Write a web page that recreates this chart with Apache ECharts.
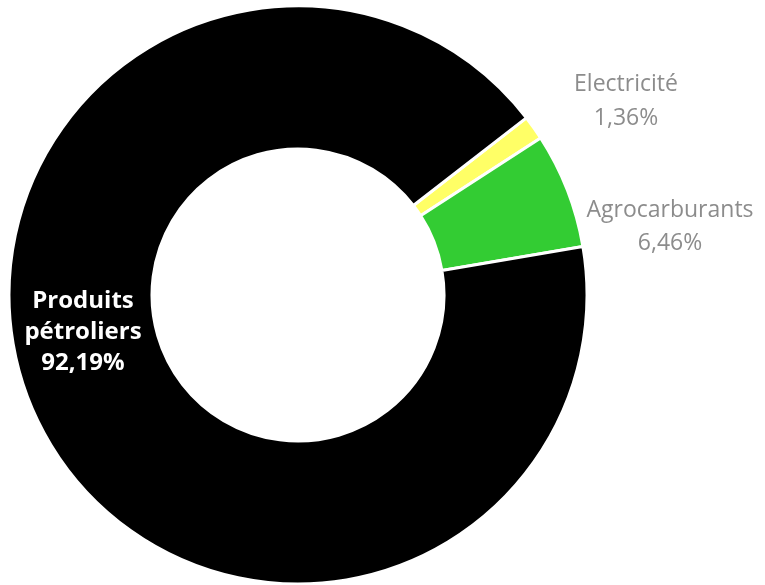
<!DOCTYPE html>
<html>
<head>
<meta charset="utf-8">
<script src="https://cdn.jsdelivr.net/npm/echarts@6/dist/echarts.min.js"></script>
<style>
html,body{margin:0;padding:0;background:#fff;}
#chart{width:765px;height:585px;}
</style>
</head>
<body>
<div id="chart"></div>
<script>
var categories = ['Electricité', 'Agrocarburants', 'Produits pétroliers'];
var labelNames = ['Electricité', 'Agrocarburants', 'Produits\npétroliers'];
var values = [1.36, 6.46, 92.19];
var percentLabels = ['1,36%', '6,46%', '92,19%'];
var colors = ['#ffff66', '#33cc33', '#000000'];

var labelPos = [
  {x: 626, y: 101, color: '#8c8c8c', weight: 'normal', lh: 34, size: 23},
  {x: 670, y: 227, color: '#8c8c8c', weight: 'normal', lh: 33, size: 23},
  {x: 83, y: 332, color: '#ffffff', weight: 'bold', lh: 31, size: 24}
];

var chart = echarts.init(document.getElementById('chart'));
chart.setOption({
  animation: false,
  series: [{
    type: 'pie',
    center: [298, 295],
    radius: [146, 289],
    startAngle: 37.8,
    clockwise: true,
    avoidLabelOverlap: false,
    data: categories.map(function (c, i) {
      return {
        name: c,
        value: values[i],
        itemStyle: {color: colors[i], borderColor: '#ffffff', borderWidth: 3},
        label: {
          show: true,
          position: 'outside',
          formatter: labelNames[i] + '\n' + percentLabels[i],
          color: labelPos[i].color,
          fontWeight: labelPos[i].weight,
          fontSize: labelPos[i].size,
          lineHeight: labelPos[i].lh,
          fontFamily: 'Open Sans',
          align: 'center'
        },
        labelLine: {show: false}
      };
    }),
    labelLayout: function (p) {
      var lp = labelPos[p.dataIndex];
      return {x: lp.x, y: lp.y, align: 'center', verticalAlign: 'middle', hideOverlap: false};
    }
  }]
});
</script>
</body>
</html>
